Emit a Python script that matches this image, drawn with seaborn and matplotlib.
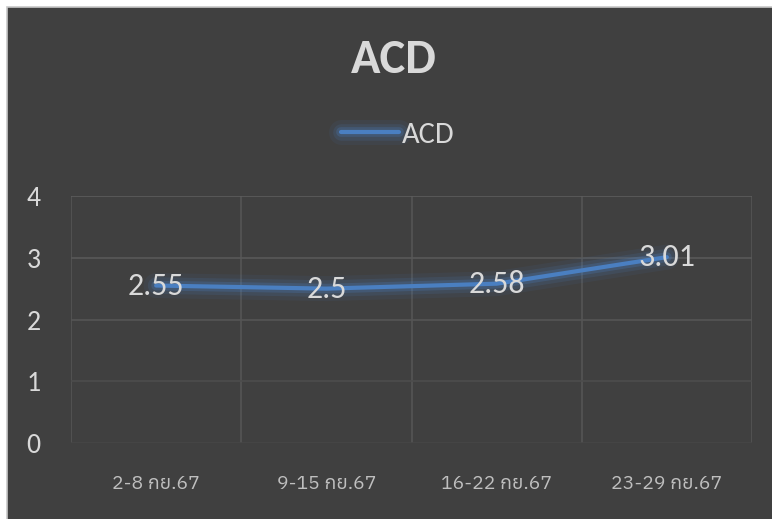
import pandas as pd
import matplotlib
matplotlib.use("Agg")
import matplotlib.pyplot as plt
import matplotlib.patheffects as pe
from matplotlib.patches import Rectangle
from matplotlib.ticker import FixedLocator
import seaborn as sns

# data
weeks = ["2-8 กย.67", "9-15 กย.67", "16-22 กย.67", "23-29 กย.67"]
acd = [2.55, 2.5, 2.58, 3.01]
yticks = [0, 1, 2, 3, 4]

df = pd.DataFrame({"week": weeks, "ACD": acd})

sns.set_theme(style="dark")
plt.rcParams["font.family"] = ["Carlito", "DejaVu Sans"]

bg = "#404040"
txt = "#d9d9d9"
blue = "#4a7fc1"

fig = plt.figure(figsize=(7.72, 5.19), dpi=100)
fig.patch.set_facecolor("white")
# dark chart area with the thin light frame at top / left
fig.add_artist(Rectangle((7 / 772, -0.01), 1.0, 1 - 7 / 519 + 0.01,
                         transform=fig.transFigure, facecolor=bg,
                         edgecolor="#c8c8c8", lw=1.2, zorder=0))

ax = fig.add_axes([71 / 772, 76 / 519, 681 / 772, 247 / 519])
ax.set_facecolor("none")

glow = [pe.Stroke(linewidth=18, foreground=blue, alpha=0.08),
        pe.Stroke(linewidth=12, foreground=blue, alpha=0.14),
        pe.Stroke(linewidth=7, foreground=blue, alpha=0.25),
        pe.Normal()]
sns.lineplot(data=df, x="week", y="ACD", ax=ax, color=blue, lw=3,
             label="ACD", sort=False, path_effects=glow, zorder=3)

# data labels sit on the points
for i, v in enumerate(acd):
    ax.text(i, v, f"{v:g}", ha="center", va="center", fontsize=23,
            color=txt, zorder=4)

ax.set_xlim(-0.5, len(weeks) - 0.5)
ax.set_ylim(0, 4)
ax.set_yticks(yticks)
ax.xaxis.set_minor_locator(FixedLocator([i - 0.5 for i in range(len(weeks) + 1)]))
ax.grid(False)
ax.grid(True, which="minor", axis="x", color="#555555", lw=1.2)
ax.grid(True, which="major", axis="y", color="#595959", lw=1.2)
# lower gridlines fade a little like the original
for gl, c in zip(ax.get_ygridlines(), ["#474747", "#4d4d4d", "#555555", "#595959", "#5c5c5c"]):
    gl.set_color(c)

ax.tick_params(axis="y", which="both", length=0, pad=22, labelsize=20, labelcolor=txt)
ax.tick_params(axis="x", which="both", length=0, pad=23, labelcolor="#bfbfbf")
for lab in ax.get_xticklabels():
    lab.set_family(["Anuphan", "DejaVu Sans"])
    lab.set_fontsize(14)
ax.set_xlabel("")
ax.set_ylabel("")
for s in ax.spines.values():
    s.set_visible(False)

fig.text(0.51, 1 - 60 / 519, "ACD", ha="center", va="center",
         fontsize=35, fontweight="bold", color=txt)

ax.legend(loc="center", bbox_to_anchor=(0.515, 1 - 135 / 519),
          bbox_transform=fig.transFigure, frameon=False, fontsize=22,
          labelcolor=txt, handlelength=1.9, handletextpad=0.1)

plt.savefig("out.png", dpi=100, facecolor=fig.get_facecolor())
